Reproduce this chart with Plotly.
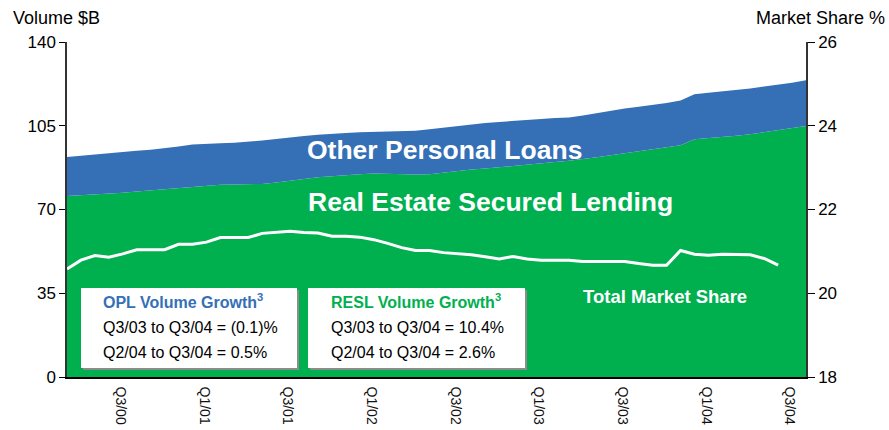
import plotly.graph_objects as go

# ---- data ----
months = list(range(54))          # monthly index, mid-2000 .. late-2004
resl_volume = [75.6, 75.9, 76.2, 76.6, 77.0, 77.5, 78.0, 78.5, 79.0, 79.4,
               79.8, 80.3, 80.5, 80.6, 80.7, 81.3, 81.9, 82.7, 83.5, 84.0,
               84.3, 84.7, 85.0, 84.8, 84.7, 84.6, 84.7, 85.4, 86.1, 86.7,
               87.1, 87.6, 88.2, 88.8, 89.3, 89.9, 90.4, 91.0, 91.8, 92.7,
               93.5, 94.3, 95.1, 95.9, 96.8, 99.4, 99.8, 100.3, 100.8, 101.4,
               102.3, 103.1, 104.0, 104.9]
total_volume = [91.9, 92.5, 93.0, 93.6, 94.2, 94.6, 95.0, 95.6, 96.3, 97.2,
                97.6, 97.7, 97.9, 98.3, 98.8, 99.5, 100.2, 100.7, 101.2, 101.7,
                102.0, 102.3, 102.4, 102.6, 102.5, 102.9, 103.5, 104.2, 104.9, 105.6,
                106.1, 106.6, 107.1, 107.4, 107.8, 108.2, 108.4, 109.3, 110.3, 111.3,
                112.2, 112.9, 113.6, 114.5, 115.6, 118.2, 118.8, 119.3, 119.9, 120.6,
                121.4, 122.1, 123.0, 124.0]
share_months = list(range(52))
market_share = [20.58, 20.79, 20.90, 20.86, 20.94, 21.04, 21.04, 21.04, 21.17, 21.17,
                21.22, 21.33, 21.33, 21.33, 21.43, 21.45, 21.48, 21.45, 21.44, 21.36,
                21.36, 21.34, 21.28, 21.19, 21.09, 21.02, 21.02, 20.97, 20.94, 20.92,
                20.87, 20.82, 20.88, 20.82, 20.79, 20.79, 20.79, 20.76, 20.76, 20.76,
                20.76, 20.71, 20.67, 20.67, 21.02, 20.93, 20.91, 20.93, 20.93, 20.92,
                20.83, 20.67]
tick_labels = ["Q3/00", "Q1/01", "Q3/01", "Q1/02", "Q3/02",
               "Q1/03", "Q3/03", "Q1/04", "Q3/04"]
tick_positions = [3.85 + 6 * k for k in range(len(tick_labels))]

BLUE = "#356FB6"
GREEN = "#00B04F"
FONT = "Liberation Sans, Arial, sans-serif"

W, H = 889, 430
L, R, T, B = 67, 83, 42, 53
PW, PH = W - L - R, H - T - B


def px(x):
    return (x - L) / PW


def py(y):
    return (H - B - y) / PH


fig = go.Figure()
fig.add_trace(go.Scatter(x=months, y=resl_volume, mode="lines", line=dict(width=0, color=GREEN),
                         fill="tozeroy", fillcolor=GREEN, showlegend=False, hoverinfo="skip"))
fig.add_trace(go.Scatter(x=months, y=total_volume, mode="lines", line=dict(width=0, color=BLUE),
                         fill="tonexty", fillcolor=BLUE, showlegend=False, hoverinfo="skip"))
fig.add_trace(go.Scatter(x=share_months, y=market_share, mode="lines", yaxis="y2",
                         line=dict(width=3, color="white"), showlegend=False))

shapes = []
annotations = []
boxes = [
    (81, 297, 288, 368, "OPL Volume Growth<sup>3</sup>", BLUE,
     ["Q3/03 to Q3/04 = (0.1)%", "Q2/04 to Q3/04 = 0.5%"], 101),
    (308, 525, 288, 368, "RESL Volume Growth<sup>3</sup>", GREEN,
     ["Q3/03 to Q3/04 = 10.4%", "Q2/04 to Q3/04 = 2.6%"], 329),
]
for x0, x1, y0, y1, title, tcol, lines, tx in boxes:
    shapes.append(dict(type="rect", xref="paper", yref="paper", layer="above",
                       x0=px(x0 + 2), x1=px(x1 + 2), y0=py(y1 + 2), y1=py(y0 + 2),
                       fillcolor="#8C8C8C", line=dict(width=0)))
    shapes.append(dict(type="rect", xref="paper", yref="paper", layer="above",
                       x0=px(x0), x1=px(x1), y0=py(y1), y1=py(y0),
                       fillcolor="white", line=dict(width=0)))
    annotations.append(dict(xref="paper", yref="paper", x=px(tx), y=py(301), text=title,
                            showarrow=False, xanchor="left", yanchor="middle",
                            font=dict(family=FONT, size=16, color=tcol, weight="bold")))
    for k, t in enumerate(lines):
        annotations.append(dict(xref="paper", yref="paper", x=px(tx), y=py(327 + 25 * k), text=t,
                                showarrow=False, xanchor="left", yanchor="middle",
                                font=dict(family=FONT, size=16, color="black")))

annotations += [
    dict(xref="paper", yref="paper", x=px(444), y=py(150), text="<b>Other Personal Loans</b>",
         showarrow=False, xanchor="center", yanchor="middle",
         font=dict(family=FONT, size=26.5, color="white")),
    dict(xref="paper", yref="paper", x=px(491), y=py(202), text="<b>Real Estate Secured Lending</b>",
         showarrow=False, xanchor="center", yanchor="middle",
         font=dict(family=FONT, size=26.5, color="white")),
    dict(xref="paper", yref="paper", x=px(665), y=py(296), text="<b>Total Market Share</b>",
         showarrow=False, xanchor="center", yanchor="middle",
         font=dict(family=FONT, size=18.5, color="white")),
    dict(xref="paper", yref="paper", x=px(11), y=py(18), text="Volume $B",
         showarrow=False, xanchor="left", yanchor="middle",
         font=dict(family=FONT, size=18, color="black")),
    dict(xref="paper", yref="paper", x=px(887), y=py(18), text="Market Share %",
         showarrow=False, xanchor="right", yanchor="middle",
         font=dict(family=FONT, size=18, color="black")),
]

fig.update_layout(
    width=W, height=H,
    margin=dict(l=L, r=R, t=T, b=B, autoexpand=False),
    paper_bgcolor="white", plot_bgcolor="white",
    font=dict(family=FONT, size=17, color="black"),
    showlegend=False,
    shapes=shapes, annotations=annotations,
    xaxis=dict(range=[0, 53], tickvals=tick_positions, ticktext=tick_labels,
               tickangle=90, ticks="", showgrid=False, zeroline=False,
               showline=True, linecolor="black", linewidth=1.5, ticklabelstandoff=5,
               tickfont=dict(family=FONT, size=14, color="#111")),
    yaxis=dict(range=[0, 140], tickvals=[0, 35, 70, 105, 140], ticks="outside", ticklen=6,
               tickcolor="black", showgrid=False, zeroline=False, showline=True,
               linecolor="#333", linewidth=1.5, tickfont=dict(family=FONT, size=17)),
    yaxis2=dict(range=[18, 26], tickvals=[18, 20, 22, 24, 26], overlaying="y", side="right",
                ticks="outside", ticklen=7, tickcolor="black", showgrid=False, zeroline=False,
                showline=True, linecolor="#333", linewidth=1.5,
                tickfont=dict(family=FONT, size=17)),
)

fig.write_html("out.html", config={"displayModeBar": False},
               post_script="document.body.style.margin='0px';document.body.style.overflow='hidden';")
